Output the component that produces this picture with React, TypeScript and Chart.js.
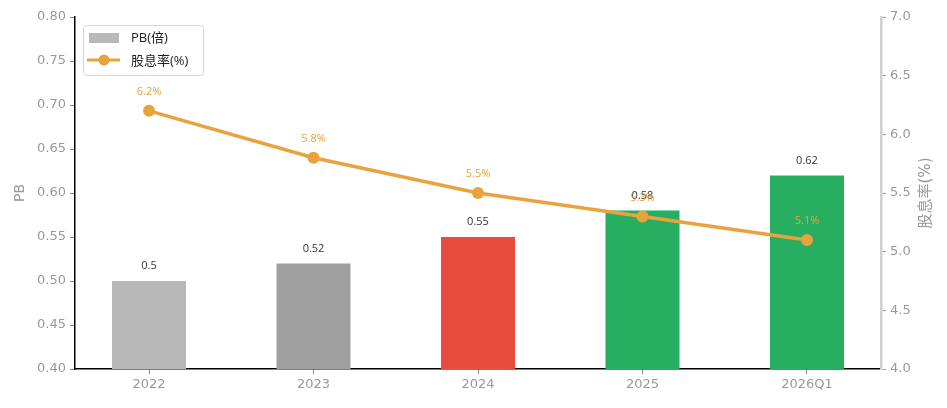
import React, { useEffect, useRef } from 'react';
import { Chart, registerables } from 'chart.js';

Chart.register(...registerables);

const categories = ['2022', '2023', '2024', '2025', '2026Q1'];
const pbValues = [0.5, 0.52, 0.55, 0.58, 0.62];
const yieldValues = [6.2, 5.8, 5.5, 5.3, 5.1];
const barColors = ['#b8b8b8', '#a0a0a0', '#e74c3c', '#27ae60', '#27ae60'];
const pbTicks = [0.4, 0.45, 0.5, 0.55, 0.6, 0.65, 0.7, 0.75, 0.8];
const yieldTicks = [4.0, 4.5, 5.0, 5.5, 6.0, 6.5, 7.0];

const LINE = '#e8a33d';
const FONT = '"Open Sans", "Noto Sans CJK SC", sans-serif';
const TICK_FONT = '"DejaVu Sans", "Noto Sans CJK SC", sans-serif';

const labelPlugin = {
    id: 'valueLabels',
    afterDatasetsDraw(chart: any) {
        const ctx = chart.ctx;
        ctx.save();
        ctx.textAlign = 'center';
        ctx.textBaseline = 'middle';
        const bars = chart.getDatasetMeta(0).data;
        ctx.font = `11px ${FONT}`;
        ctx.fillStyle = '#333';
        bars.forEach((el: any, i: number) => {
            ctx.fillText(String(pbValues[i]), el.x, el.y - 15);
        });
        const pts = chart.getDatasetMeta(1).data;
        ctx.fillStyle = LINE;
        pts.forEach((el: any, i: number) => {
            ctx.fillText(yieldValues[i].toFixed(1) + '%', el.x, el.y - 19);
        });
        ctx.restore();
    },
    afterDraw(chart: any) {
        const ctx = chart.ctx;
        const { left, top, right, bottom } = chart.chartArea;
        const x = left + 8;
        const y = top + 8;
        ctx.save();
        ctx.fillStyle = 'rgba(255,255,255,0.8)';
        ctx.strokeStyle = '#d6d6d6';
        ctx.lineWidth = 1;
        ctx.beginPath();
        ctx.roundRect(x + 0.5, y + 0.5, 120, 50, 3);
        ctx.fill();
        ctx.stroke();
        ctx.fillStyle = '#b8b8b8';
        ctx.fillRect(x + 6, y + 8, 30, 10);
        ctx.strokeStyle = LINE;
        ctx.lineWidth = 3;
        ctx.beginPath();
        ctx.moveTo(x + 4, y + 35);
        ctx.lineTo(x + 37, y + 35);
        ctx.stroke();
        ctx.fillStyle = LINE;
        ctx.beginPath();
        ctx.arc(x + 21, y + 35, 5.5, 0, Math.PI * 2);
        ctx.fill();
        ctx.fillStyle = '#222';
        ctx.font = `13px ${FONT}`;
        ctx.textBaseline = 'middle';
        ctx.textAlign = 'left';
        ctx.fillText('PB(倍)', x + 48, y + 13);
        ctx.fillText('股息率(%)', x + 48, y + 36);

        // axis titles, both reading bottom to top
        ctx.textAlign = 'center';
        ctx.fillStyle = '#999';
        ctx.font = `14px ${TICK_FONT}`;
        ctx.save();
        ctx.translate(20, (top + bottom) / 2);
        ctx.rotate(-Math.PI / 2);
        ctx.fillText('PB', 0, 0);
        ctx.restore();
        ctx.font = `15px ${TICK_FONT}`;
        ctx.translate(right + 45, (top + bottom) / 2);
        ctx.rotate(-Math.PI / 2);
        ctx.fillText('股息率(%)', 0, 0);
        ctx.restore();
    },
};

const App: React.FC = () => {
    const canvasRef = useRef<HTMLCanvasElement>(null);

    useEffect(() => {
        if (!canvasRef.current) return;
        const ctx = canvasRef.current.getContext('2d');
        if (!ctx) return;

        const chart = new Chart(ctx, {
            type: 'bar',
            data: {
                datasets: [
                    {
                        type: 'bar',
                        label: 'PB(倍)',
                        data: pbValues.map((v, i) => ({ x: i, y: v })),
                        backgroundColor: barColors,
                        barPercentage: 0.45,
                        categoryPercentage: 1,
                        yAxisID: 'y',
                        order: 2,
                    },
                    {
                        type: 'line',
                        label: '股息率(%)',
                        data: yieldValues.map((v, i) => ({ x: i, y: v })),
                        borderColor: LINE,
                        backgroundColor: LINE,
                        borderWidth: 3.5,
                        pointRadius: 6,
                        pointBackgroundColor: LINE,
                        pointBorderWidth: 0,
                        yAxisID: 'y1',
                        order: 1,
                    },
                ] as any,
            },
            plugins: [labelPlugin],
            options: {
                animation: false,
                responsive: true,
                maintainAspectRatio: false,
                layout: { padding: { top: 17 } },
                plugins: {
                    legend: { display: false },
                    tooltip: { enabled: false },
                },
                scales: {
                    x: {
                        type: 'linear',
                        min: -0.45,
                        max: 4.45,
                        offset: false,
                        afterBuildTicks: (s: any) => {
                            s.ticks = categories.map((_, i) => ({ value: i }));
                        },
                        afterFit: (s: any) => {
                            s.height = 39;
                        },
                        ticks: {
                            callback: (v: any) => categories[v] ?? '',
                            color: '#999',
                            font: { family: TICK_FONT, size: 13 },
                            padding: 3,
                            maxRotation: 0,
                        },
                        grid: { drawOnChartArea: false, offset: false, tickLength: 5, color: '#888' },
                        border: { color: '#000', width: 1.5 },
                    },
                    y: {
                        type: 'linear',
                        position: 'left',
                        min: 0.4,
                        max: 0.8,
                        afterBuildTicks: (s: any) => {
                            s.ticks = pbTicks.map((v) => ({ value: v }));
                        },
                        afterFit: (s: any) => {
                            s.width = 75;
                        },
                        ticks: {
                            callback: (v: any) => Number(v).toFixed(2),
                            color: '#999',
                            font: { family: TICK_FONT, size: 13 },
                            padding: 4,
                        },
                        grid: { drawOnChartArea: false, tickLength: 5, color: '#888' },
                        border: { color: '#000', width: 1.5 },
                    },
                    y1: {
                        type: 'linear',
                        position: 'right',
                        min: 4,
                        max: 7,
                        afterBuildTicks: (s: any) => {
                            s.ticks = yieldTicks.map((v) => ({ value: v }));
                        },
                        afterFit: (s: any) => {
                            s.width = 66;
                        },
                        ticks: {
                            callback: (v: any) => Number(v).toFixed(1),
                            color: '#999',
                            font: { family: TICK_FONT, size: 13 },
                            padding: 4,
                        },
                        grid: { drawOnChartArea: false, tickLength: 5, color: '#999' },
                        border: { color: '#d0d0d0', width: 2.5 },
                    },
                },
            },
        });

        return () => {
            chart.destroy();
        };
    }, []);

    return (
        <div style={{ position: 'absolute', left: 0, top: 0, width: 947, height: 408 }}>
            <canvas ref={canvasRef}></canvas>
        </div>
    );
};

export default App;
